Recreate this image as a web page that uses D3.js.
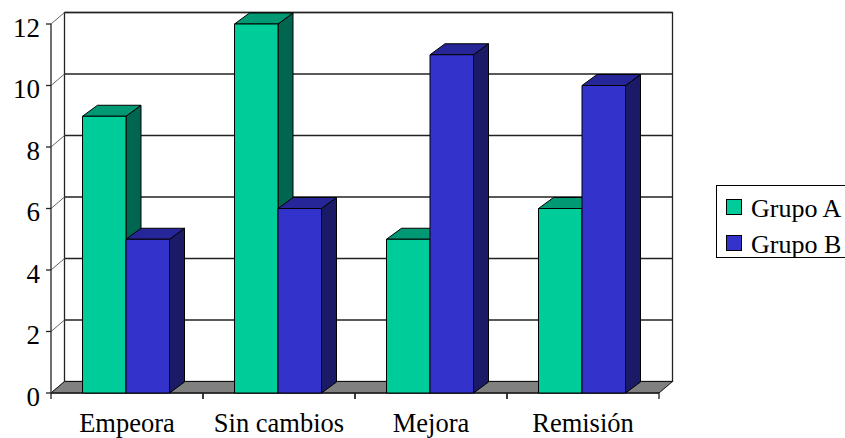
<!DOCTYPE html>
<html>
<head>
<meta charset="utf-8">
<script src="https://cdn.jsdelivr.net/npm/d3@7/dist/d3.min.js"></script>
<style>
  html, body { margin: 0; padding: 0; background: #fff; }
  svg { display: block; }
</style>
</head>
<body>
<svg id="chart" width="845" height="438"></svg>
<script>
// Data
const categories = ["Empeora", "Sin cambios", "Mejora", "Remisión"];
const seriesNames = ["Grupo A", "Grupo B"];
const grupoA = [9, 12, 5, 6];
const grupoB = [5, 6, 11, 10];
const yTicks = [0, 2, 4, 6, 8, 10, 12];

const FONT = "'Liberation Serif', 'Times New Roman', serif";

// Colours: front, top, side faces per series
const palette = {
  "Grupo A": { front: "#00cc99", top: "#009973", side: "#006650" },
  "Grupo B": { front: "#3333cc", top: "#262699", side: "#1a1a66" }
};

const svg = d3.select("#chart").style("font-family", FONT);

// Front plane geometry and depth offsets for the 3D effect
const x0 = 51, x1 = 659;
const wallDx = 13.5, wallDy = -11.5;
const barDx = 15, barDy = -11;

const y = d3.scaleLinear().domain([0, 12]).range([393, 24]);
const x = d3.scaleBand().domain(categories).range([x0, x1]).padding(0);
const xs = d3.scaleBand().domain(seriesNames).range([31.5, 118.5]).padding(0);

const line = (pts) => "M" + pts.map(p => p.join(",")).join("L") + "Z";

// Back wall
const back = svg.append("g");
back.append("rect")
  .attr("x", x0 + wallDx).attr("y", y(12) + wallDy)
  .attr("width", x1 - x0).attr("height", y(0) - y(12))
  .attr("fill", "#fff").attr("stroke", "#222").attr("stroke-width", 1.3);

// Gridlines on back wall, with diagonals across the side wall
yTicks.forEach(t => {
  if (t > 0) {
    back.append("line")
      .attr("x1", x0 + wallDx).attr("x2", x1 + wallDx)
      .attr("y1", y(t) + wallDy).attr("y2", y(t) + wallDy)
      .attr("stroke", "#222").attr("stroke-width", 1.3);
  }
  back.append("line")
    .attr("x1", x0).attr("y1", y(t))
    .attr("x2", x0 + wallDx).attr("y2", y(t) + wallDy)
    .attr("stroke", "#666").attr("stroke-width", 1);
});

// Floor
svg.append("path")
  .attr("d", line([[x0, y(0)], [x1, y(0)], [x1 + wallDx, y(0) + wallDy], [x0 + wallDx, y(0) + wallDy]]))
  .attr("fill", "#808080").attr("stroke", "#111").attr("stroke-width", 1);

// Y axis
const yAxis = svg.append("g");
yAxis.append("line")
  .attr("x1", x0).attr("x2", x0).attr("y1", y(12)).attr("y2", y(0))
  .attr("stroke", "#222").attr("stroke-width", 1.3);
yTicks.forEach(t => {
  yAxis.append("line")
    .attr("x1", x0 - 5).attr("x2", x0).attr("y1", y(t)).attr("y2", y(t))
    .attr("stroke", "#222").attr("stroke-width", 1.3);
  yAxis.append("text")
    .attr("x", 40).attr("y", y(t) + 12.5)
    .attr("text-anchor", "end").attr("font-size", 27)
    .attr("font-family", FONT)
    .text(t);
});

// X axis
const xAxis = svg.append("g");
xAxis.append("line")
  .attr("x1", x0).attr("x2", x1).attr("y1", y(0)).attr("y2", y(0))
  .attr("stroke", "#222").attr("stroke-width", 1.3);
categories.forEach((c, i) => {
  [x(c), x(c) + x.bandwidth()].forEach(px => {
    xAxis.append("line")
      .attr("x1", px).attr("x2", px).attr("y1", y(0)).attr("y2", y(0) + 6)
      .attr("stroke", "#222").attr("stroke-width", 1.3);
  });
  xAxis.append("text")
    .attr("x", x(c) + x.bandwidth() / 2).attr("y", 431.5)
    .attr("text-anchor", "middle").attr("font-size", 26.5)
    .attr("font-family", FONT)
    .text(c);
});

// Bars
const seriesValues = { "Grupo A": grupoA, "Grupo B": grupoB };
const bars = svg.append("g");
categories.forEach((c, i) => {
  seriesNames.forEach(s => {
    const v = seriesValues[s][i];
    const bx = x(c) + xs(s), bw = xs.bandwidth();
    const yt = y(v), yb = y(0);
    const col = palette[s];
    const g = bars.append("g").attr("stroke", "#000").attr("stroke-width", 1).attr("stroke-linejoin", "round");
    g.append("path")
      .attr("d", line([[bx + bw, yt], [bx + bw + barDx, yt + barDy], [bx + bw + barDx, yb + barDy], [bx + bw, yb]]))
      .attr("fill", col.side);
    g.append("path")
      .attr("d", line([[bx, yt], [bx + barDx, yt + barDy], [bx + bw + barDx, yt + barDy], [bx + bw, yt]]))
      .attr("fill", col.top);
    g.append("rect")
      .attr("x", bx).attr("y", yt).attr("width", bw).attr("height", yb - yt)
      .attr("fill", col.front);
  });
});

// Legend
const legend = svg.append("g");
legend.append("rect")
  .attr("x", 716.5).attr("y", 185.5).attr("width", 160).attr("height", 72)
  .attr("fill", "#fff").attr("stroke", "#000").attr("stroke-width", 1);
seriesNames.forEach((s, i) => {
  const ly = 199.5 + i * 36;
  legend.append("rect")
    .attr("x", 726.5).attr("y", ly).attr("width", 15).attr("height", 15)
    .attr("fill", palette[s].front).attr("stroke", "#000").attr("stroke-width", 1);
  legend.append("text")
    .attr("x", 751).attr("y", ly + 17).attr("font-size", 26)
    .attr("font-family", FONT)
    .text(s);
});
</script>
</body>
</html>
